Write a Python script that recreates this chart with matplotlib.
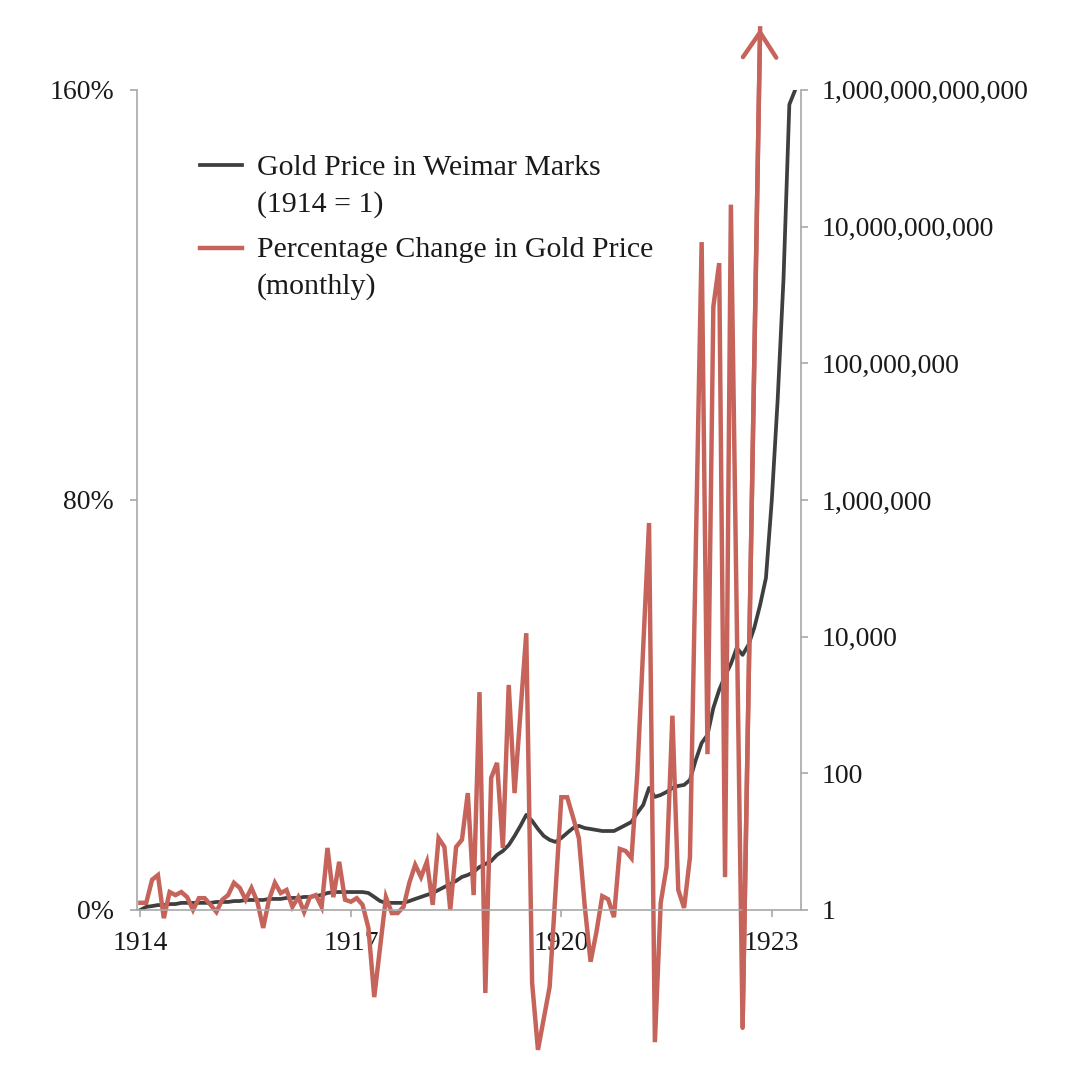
import matplotlib
matplotlib.use("Agg")

import matplotlib.pyplot as plt
import matplotlib.ticker as mticker
from matplotlib.legend_handler import HandlerLine2D
import numpy as np

# -- data (monthly, Jan 1914 = month 0) --
year_ticks = [0, 36, 72, 108]
year_labels = ["1914", "1917", "1920", "1923"]

gold_price = [
    1.0, 1.11, 1.14, 1.18, 1.18, 1.22, 1.22, 1.27, 1.27, 1.27, 1.27, 1.27,
    1.27, 1.31, 1.31, 1.31, 1.35, 1.35, 1.40, 1.40, 1.40, 1.40, 1.45, 1.45,
    1.45, 1.50, 1.50, 1.50, 1.55, 1.55, 1.60, 1.66, 1.77, 1.83, 1.83, 1.83,
    1.83, 1.83, 1.83, 1.77, 1.55, 1.35, 1.27, 1.27, 1.27, 1.27, 1.35, 1.45,
    1.55, 1.66, 1.77, 1.96, 2.17, 2.40, 2.66, 3.04, 3.25, 3.60, 4.26, 4.71,
    5.2, 6.4, 7.3, 8.9, 12.1, 17.0, 24.6, 20.1, 15.3, 12.1, 10.6, 9.9,
    11.3, 13.4, 15.8, 17.0, 15.8, 15.3, 14.8, 14.3, 14.3, 14.3, 15.8, 17.5,
    19.4, 26.3, 34.4, 61.0, 45.1, 48.2, 53.3, 61.0, 65.3, 67.5, 79.9, 157,
    278, 364, 904, 1660, 2660, 3980, 6830, 5400, 7550, 13400, 29100, 72300,
    1.0e6, 2.9e7, 1.7e9, 6.1e11, 1.0e12,
]

red_month = (
    list(range(0, 41)) + list(range(42, 65)) + [66, 67, 68, 70]
    + list(range(72, 86)) + list(range(87, 95)) + list(range(96, 102))
    + [103, 106]
)
red_pct = [
    1.4, 1.4, 5.9, 6.8, -1.6, 3.5, 2.9, 3.5, 2.5, 0.0, 2.3, 2.3,
    1.0, -0.4, 2.0, 2.9, 5.3, 4.3, 2.0, 4.3, 1.6, -3.5, 2.0, 5.3,
    3.3, 3.9, 0.6, 2.5, -0.4, 2.5, 2.9, 0.6, 12.1, 2.5, 9.4, 2.0,
    1.6, 2.3, 1.0, -3.5, -17.0,
    2.5, -0.6, -0.6, 0.6, 5.3, 8.8, 6.4, 9.4, 1.0, 14.0, 12.3, 0.0,
    12.3, 13.7, 22.8, 2.9, 42.5, -16.2, 25.8, 28.7, 12.1, 43.9, 22.8,
    54.0, -14.2, -27.3, -15.0,
    22.0, 22.0, 18.1, 14.0, 0.8, -10.1, -4.3, 2.7, 2.1, -1.4, 11.9, 11.5,
    10.1, 26.7,
    75.5, -25.8, 1.4, 8.4, 37.9, 3.9, 0.4, 10.3,
    130.3, 30.4, 117.7, 126.2, 6.4, 137.6,
    -23.0, 172.0,
]

GOLD = "#3f3f3f"
RED = "#c6645b"
AXIS = "#a8a8a8"
TEXT = "#1a1a1a"
FONT = ["Liberation Serif", "DejaVu Serif"]

plt.rcParams["font.family"] = FONT
plt.rcParams["text.color"] = TEXT


class FirstLineHandler(HandlerLine2D):
    # put the legend swatch next to the first line of a two-line label
    def create_artists(self, legend, orig_handle, xdescent, ydescent,
                       width, height, fontsize, trans):
        arts = super().create_artists(legend, orig_handle, xdescent, ydescent,
                                      width, height, fontsize, trans)
        for a in arts:
            a.set_ydata(np.asarray(a.get_ydata()) + 0.69 * fontsize)
        return arts


fig = plt.figure(figsize=(10.8, 10.92), dpi=100)
ax = fig.add_axes([0.1273, 0.1667, 0.6144, 0.751])
ax2 = ax.twinx()

x_gold = np.arange(len(gold_price))
gold_line, = ax2.plot(x_gold, gold_price, color=GOLD, lw=2.7, solid_joinstyle="round")
red_line, = ax.plot(red_month, red_pct, color=RED, lw=3.2, clip_on=False,
                    solid_joinstyle="miter")
ax.annotate("", xy=(red_month[-1], red_pct[-1]),
            xytext=(red_month[-2], red_pct[-2]),
            arrowprops=dict(arrowstyle="->,head_length=0.9,head_width=0.6",
                            color=RED, lw=3.2, shrinkA=0, shrinkB=0,
                            mutation_scale=20),
            annotation_clip=False)

# red series on top of the grey one
ax.set_zorder(ax2.get_zorder() + 1)
ax.patch.set_visible(False)

ax.set_xlim(-0.5, 113)
ax.set_ylim(0, 160)
ax2.set_yscale("log")
ax2.set_ylim(1, 1e12)

ax.set_xticks(year_ticks)
ax.set_xticklabels(year_labels)
ax.set_yticks([0, 80, 160])
ax.yaxis.set_major_formatter(mticker.FuncFormatter(lambda v, p: f"{v:.0f}%"))
ax2.set_yticks([10.0 ** k for k in range(0, 13, 2)])
ax2.yaxis.set_minor_locator(mticker.NullLocator())
ax2.yaxis.set_major_formatter(mticker.FuncFormatter(lambda v, p: f"{v:,.0f}"))

for spine in ["top", "right"]:
    ax.spines[spine].set_visible(False)
for spine in ["top", "left", "bottom"]:
    ax2.spines[spine].set_visible(False)
for a in (ax, ax2):
    for s in a.spines.values():
        s.set_color(AXIS)
        s.set_linewidth(1.2)

ax.tick_params(axis="y", direction="out", length=5, width=1.2, color=AXIS,
               labelsize=20, pad=12, labelcolor=TEXT)
ax.tick_params(axis="x", direction="out", length=5, width=1.2, color=AXIS,
               labelsize=20, pad=10, labelcolor=TEXT)
ax2.tick_params(axis="y", direction="out", length=5, width=1.2, color=AXIS,
                labelsize=20, pad=10, labelcolor=TEXT)

leg = fig.legend(
    [gold_line, red_line],
    ["Gold Price in Weimar Marks\n(1914 = 1)",
     "Percentage Change in Gold Price\n(monthly)"],
    handler_map={gold_line: FirstLineHandler(), red_line: FirstLineHandler()},
    loc="upper left", bbox_to_anchor=(0.185, 0.858), frameon=False,
    fontsize=21.5, handlelength=1.4, handletextpad=0.5, labelspacing=0.65,
    borderpad=0, borderaxespad=0,
)
for t in leg.get_texts():
    t.set_linespacing(1.48)

fig.savefig("out.png", dpi=100, facecolor="white")
